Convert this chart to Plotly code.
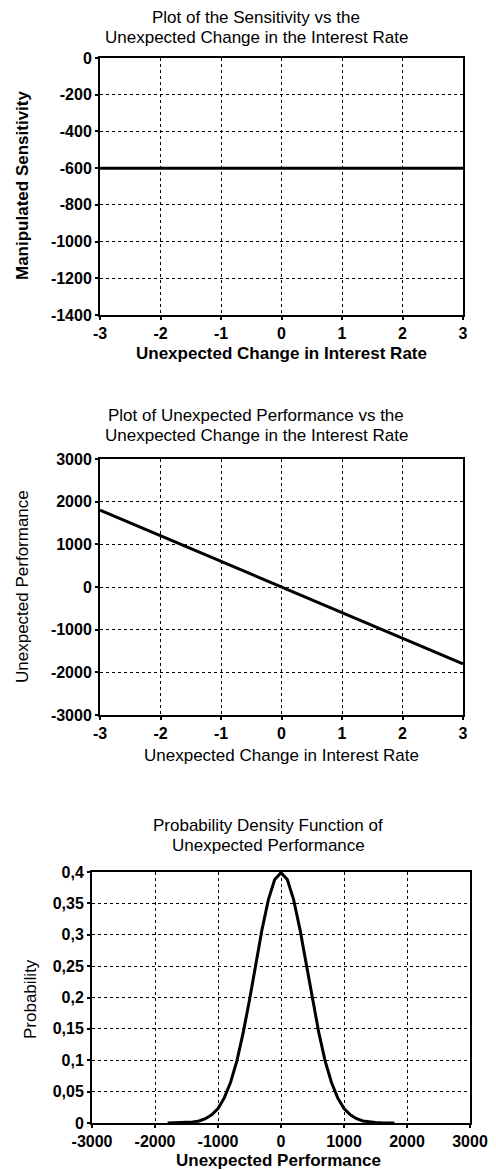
import plotly.graph_objects as go

W, H = 496, 1170
OFF = 8  # the page body adds an 8px margin around the figure

# chart 1: sensitivity vs unexpected change in interest rate
rate_change = [-3, -2, -1, 0, 1, 2, 3]
sensitivity = [-600, -600, -600, -600, -600, -600, -600]

# chart 2: unexpected performance vs unexpected change in interest rate
performance = [1800, 1200, 600, 0, -600, -1200, -1800]

# chart 3: probability density of unexpected performance
perf_x = [-1800, -1700, -1600, -1500, -1400, -1300, -1200, -1100, -1000, -900,
          -800, -700, -600, -500, -400, -300, -200, -100, 0,
          100, 200, 300, 400, 500, 600, 700, 800, 900,
          1000, 1100, 1200, 1300, 1400, 1500, 1600, 1700, 1800]
prob = [0.0, 0.0001, 0.0003, 0.0007, 0.0015, 0.0033, 0.0068, 0.013, 0.023, 0.040,
        0.065, 0.099, 0.144, 0.196, 0.254, 0.309, 0.356, 0.388, 0.399,
        0.388, 0.356, 0.309, 0.254, 0.196, 0.144, 0.099, 0.065, 0.040,
        0.023, 0.013, 0.0068, 0.0033, 0.0015, 0.0007, 0.0003, 0.0001, 0.0]

rate_ticks = [-3, -2, -1, 0, 1, 2, 3]
rate_labels = ["-3", "-2", "-1", "0", "1", "2", "3"]
sens_ticks = [0, -200, -400, -600, -800, -1000, -1200, -1400]
sens_labels = ["0", "-200", "-400", "-600", "-800", "-1000", "-1200", "-1400"]
perf_ticks = [3000, 2000, 1000, 0, -1000, -2000, -3000]
perf_labels = ["3000", "2000", "1000", "0", "-1000", "-2000", "-3000"]
pdf_x_ticks = [-3000, -2000, -1000, 0, 1000, 2000, 3000]
pdf_x_labels = ["-3000", "-2000", "-1000", "0", "1000", "2000", "3000"]
prob_ticks = [0, 0.05, 0.1, 0.15, 0.2, 0.25, 0.3, 0.35, 0.4]
prob_labels = ["0", "0,05", "0,1", "0,15", "0,2", "0,25", "0,3", "0,35", "0,4"]

FONT = "Liberation Sans, Arial, Helvetica, sans-serif"


def py(y):
    return 1 - (y - OFF) / H


def px_(x):
    return (x - OFF) / W


def axis(domain, rng, ticks, labels):
    return dict(
        domain=domain, range=rng, tickvals=ticks, ticktext=labels,
        automargin=False,
        showline=True, mirror=True, linewidth=2, linecolor="black",
        showgrid=True, gridcolor="black", griddash="dot", gridwidth=1.2,
        ticks="outside", ticklen=3, tickcolor="black", tickwidth=1.5,
        zeroline=False, tickfont=dict(family=FONT, size=16, color="black", weight="bold"),
    )


fig = go.Figure()
fig.add_trace(go.Scatter(x=rate_change, y=sensitivity, mode="lines",
                         line=dict(color="black", width=3), xaxis="x", yaxis="y"))
fig.add_trace(go.Scatter(x=rate_change, y=performance, mode="lines",
                         line=dict(color="black", width=3), xaxis="x2", yaxis="y2"))
fig.add_trace(go.Scatter(x=perf_x, y=prob, mode="lines",
                         line=dict(color="black", width=3), xaxis="x3", yaxis="y3"))

dom12 = [px_(100), px_(463)]
dom3 = [px_(92), px_(470)]

fig.update_layout(
    width=W, height=H, margin=dict(l=0, r=0, t=0, b=0),
    paper_bgcolor="white", plot_bgcolor="white", showlegend=False,
    xaxis=dict(axis(dom12, [-3, 3], rate_ticks, rate_labels), anchor="y"),
    yaxis=dict(axis([py(315), py(58)], [-1400, 0], sens_ticks, sens_labels), anchor="x"),
    xaxis2=dict(axis(dom12, [-3, 3], rate_ticks, rate_labels), anchor="y2"),
    yaxis2=dict(axis([py(715), py(459)], [-3000, 3000], perf_ticks, perf_labels), anchor="x2"),
    xaxis3=dict(axis(dom3, [-3000, 3000], pdf_x_ticks, pdf_x_labels), anchor="y3"),
    yaxis3=dict(axis([py(1123), py(872)], [0, 0.4], prob_ticks, prob_labels), anchor="x3"),
)

texts = [
    # (text, x px, y px, size, bold, angle)
    ("Plot of the Sensitivity vs the", 256, 18, 17, False, 0),
    ("Unexpected Change in the Interest Rate", 256, 37, 17, False, 0),
    ("Unexpected Change in Interest Rate", 281, 353, 17, True, 0),
    ("Manipulated Sensitivity", 22, 186, 17, True, -90),
    ("Plot of Unexpected Performance vs the", 256, 415, 17, False, 0),
    ("Unexpected Change in the Interest Rate", 256, 435, 17, False, 0),
    ("Unexpected Change in Interest Rate", 281, 756, 17, False, 0),
    ("Unexpected Performance", 22, 587, 17, False, -90),
    ("Probability Density Function of", 268, 825, 17, False, 0),
    ("Unexpected Performance", 268, 845, 17, False, 0),
    ("Unexpected Performance", 278, 1160, 17, True, 0),
    ("Probability", 30, 999, 17, False, -90),
]
for t, x, y, s, b, a in texts:
    fig.add_annotation(
        text=t, x=px_(x), y=py(y), xref="paper", yref="paper",
        showarrow=False, textangle=a, xanchor="center", yanchor="middle",
        font=dict(family=FONT, size=s, color="black", weight="bold" if b else "normal"),
    )

fig.write_html("out.html")
